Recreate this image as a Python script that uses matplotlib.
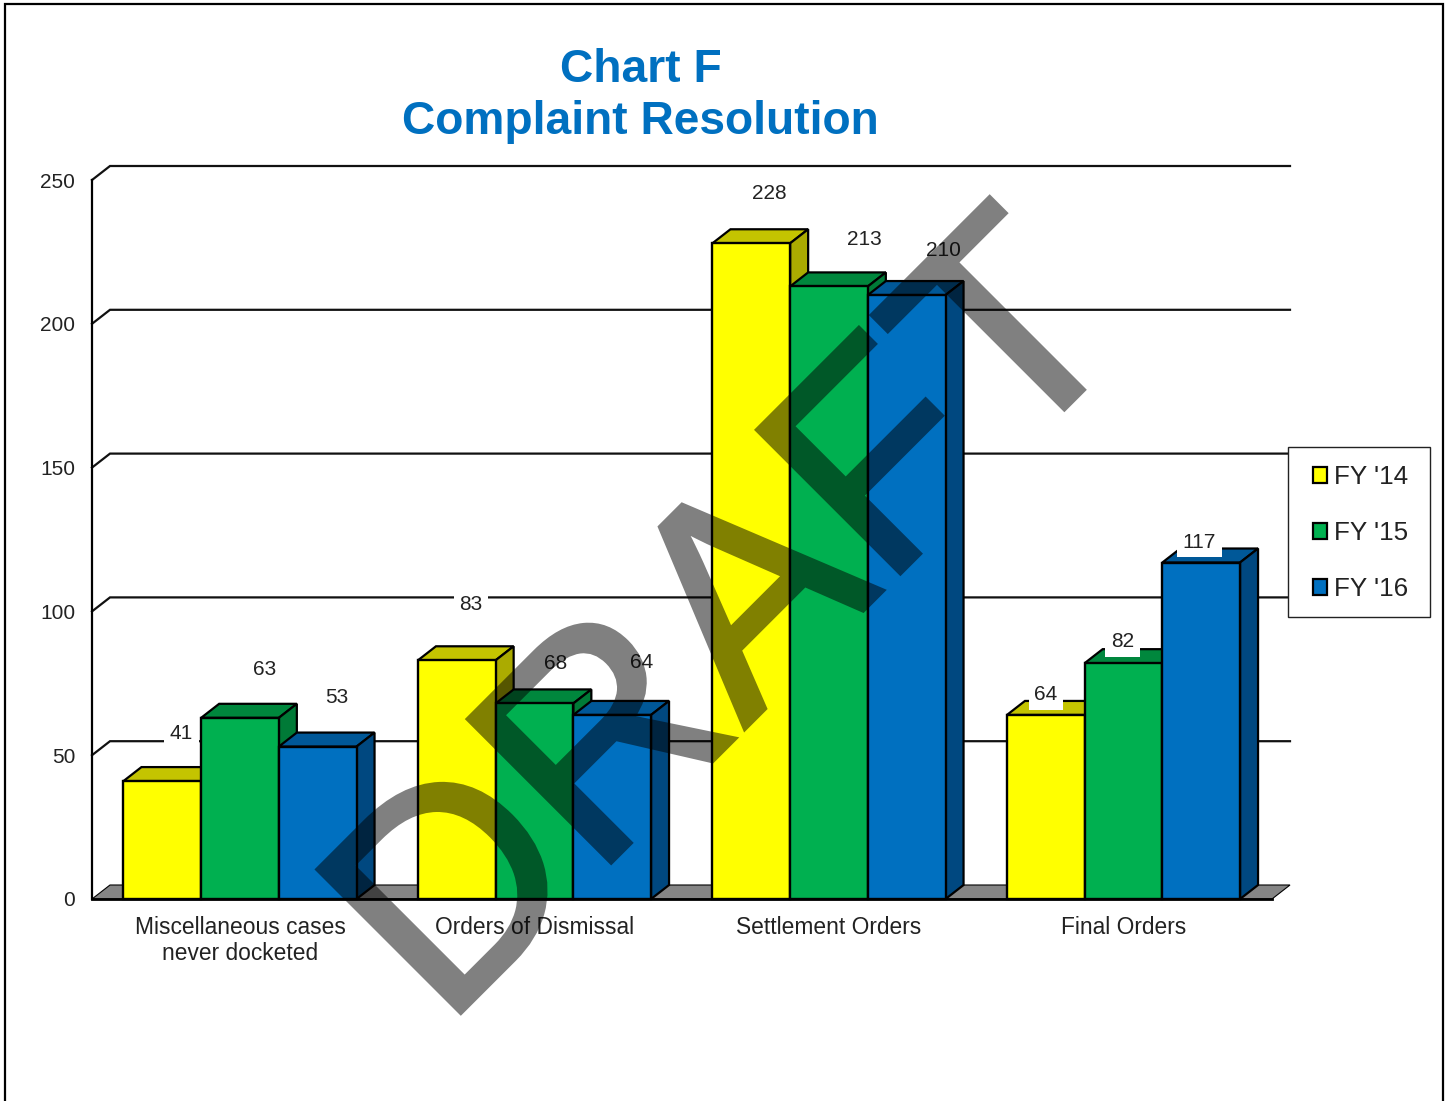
import matplotlib
matplotlib.use('Agg')
import matplotlib.pyplot as plt
import matplotlib.patheffects as pe
from matplotlib.patches import Polygon, Patch, Rectangle
from matplotlib.lines import Line2D

plt.rcParams['font.family'] = ['Liberation Sans', 'DejaVu Sans']

# Chart values
categories = ['Miscellaneous cases\nnever docketed', 'Orders of Dismissal', 'Settlement Orders', 'Final Orders']
series_names = ["FY '14", "FY '15", "FY '16"]
fy14 = [41, 83, 228, 64]
fy15 = [63, 68, 213, 82]
fy16 = [53, 64, 210, 117]
y_ticks = [0, 50, 100, 150, 200, 250]

# Colours: front, top, side
fronts = ['#FFFF00', '#00B050', '#0070C0']
tops = ['#C4C400', '#00873D', '#005898']
sides = ['#ABAB00', '#007A37', '#004880']

# Label offsets in pixels from the bar top centre
label_shift = [
    [(19, 47.5), (25, 48.5), (19, 49.5)],
    [(14, 55.5), (21, 39.5), (29, 52.5)],
    [(18, 49.5), (35, 46.5), (37, 45)],
    [(0, 20.5), (-1, 21.5), (-2, 20.5)],
]

W, H = 1448, 1101
fig = plt.figure(figsize=(W / 100, H / 100), dpi=100, facecolor='white')

# Axes covers the front plane of the 3D chart
ax = fig.add_axes([92 / W, 1 - 899 / H, (1272 - 92) / W, (899 - 180) / H])
ax.set_xlim((92 - 240) / 294.5, (1272 - 240) / 294.5)
ax.set_ylim(0, 250)
ax.patch.set_visible(False)

# Depth of the 3D effect in data units
dx = 18 / 294.5
dy = 14 / (719 / 250)
bar_w = 77.7 / 294.5
x0, x1 = ax.get_xlim()

# Floor
ax.add_patch(Polygon([(x0, 0), (x1, 0), (x1 + dx, dy), (x0 + dx, dy)], closed=True,
                     facecolor='#858585', edgecolor='black', lw=0.8, clip_on=False, zorder=1))

# Gridlines run along the wall with a short diagonal at the left
for t in y_ticks[1:]:
    ax.plot([x0, x0 + dx, x1 + dx], [t, t + dy, t + dy], color='#111111', lw=1.6,
            clip_on=False, zorder=1.5, solid_joinstyle='miter')

# Bars
values = [fy14, fy15, fy16]
z = 2
for c in range(len(categories)):
    for s in range(3):
        v = values[s][c]
        left = c + (s - 1.5) * bar_w
        right = left + bar_w
        ax.add_patch(Polygon([(left, v), (right, v), (right + dx, v + dy), (left + dx, v + dy)],
                             facecolor=tops[s], edgecolor='black', lw=1.6, clip_on=False, zorder=z))
        ax.add_patch(Polygon([(right, 0), (right, v), (right + dx, v + dy), (right + dx, dy)],
                             facecolor=sides[s], edgecolor='black', lw=1.6, clip_on=False, zorder=z))
        ax.bar(left, v, bar_w, align='edge', color=fronts[s], edgecolor='black', lw=1.7,
               clip_on=False, zorder=z + 0.1)
        z += 0.2

# Value labels sit on white boxes above the bars
for c in range(len(categories)):
    for s in range(3):
        v = values[s][c]
        sx, sy = label_shift[c][s]
        ax.annotate(str(v), xy=(c + (s - 1) * bar_w, v), xytext=(sx * 0.72, sy * 0.72),
                    textcoords='offset points', ha='center', va='center', fontsize=15,
                    color='#222222', bbox=dict(fc='white', ec='none', pad=4), zorder=20)

# Axes, ticks
for name in ['top', 'right']:
    ax.spines[name].set_visible(False)
ax.spines['left'].set_linewidth(1.6)
ax.spines['bottom'].set_linewidth(2)
ax.spines['left'].set_zorder(1.6)
ax.spines['bottom'].set_zorder(15)
ax.set_yticks(y_ticks)
ax.set_xticks(range(len(categories)))
ax.set_xticklabels(categories, linespacing=1.16)
ax.tick_params(axis='both', length=0, labelsize=15, labelcolor='#222222')
ax.tick_params(axis='x', pad=12.3, labelsize=16.4)
ax.tick_params(axis='y', pad=12)

# Title
fig.text(640.5 / W, 1 - 96 / H, 'Chart F\nComplaint Resolution', color='#0070C0', fontsize=33.2,
         fontweight='bold', ha='center', va='center', linespacing=1.21)

# Legend: frame drawn on its own so the row padding can differ from the side padding
fig.add_artist(Rectangle((1288 / W, 1 - 617 / H), 142 / W, 170 / H, transform=fig.transFigure,
                         facecolor='white', edgecolor='#222222', lw=1, zorder=5))
handles = [Patch(facecolor=fronts[i], edgecolor='black', lw=1.6, label=series_names[i]) for i in range(3)]
leg = fig.legend(handles=handles, loc='upper left', bbox_to_anchor=(1313 / W, 1 - 465 / H),
                 fontsize=18.7, frameon=False, handlelength=0.55, handleheight=0.55,
                 handletextpad=0.25, labelspacing=1.24, borderpad=0, borderaxespad=0)
leg.set_zorder(6)
for t in leg.get_texts():
    t.set_color('#222222')


# Halves the opacity of the whole word at once, so fill and stroke do not add up
def half_opacity(img, dpi):
    img[:, :, 3] *= 0.5
    return img, 0, 0


# DRAFT watermark, half black so it darkens what it crosses
draft = fig.text(737 / W, 1 - 629 / H, 'DRAFT', rotation=45, rotation_mode='anchor', fontsize=212,
                 color='black', ha='center', va='center', zorder=50)
draft.set_path_effects([pe.Stroke(linewidth=3.2, foreground='black', joinstyle='miter'), pe.Normal()])
draft.set_agg_filter(half_opacity)

# Page border, open at the bottom
fig.add_artist(Line2D([5 / W, 5 / W, 1443 / W, 1443 / W], [0, 1 - 4 / H, 1 - 4 / H, 0],
                      color='black', lw=1.6, solid_joinstyle='miter'))

fig.savefig('out.png', dpi=100)
